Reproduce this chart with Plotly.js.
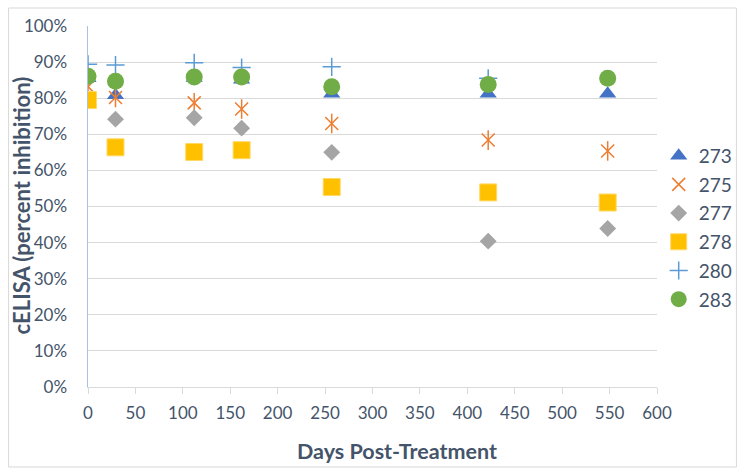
<!DOCTYPE html>
<html>
<head>
<meta charset="utf-8">
<script src="https://cdn.plot.ly/plotly-3.0.1.min.js"></script>
<style>
html,body{margin:0;padding:0;background:#fff;}
#chart{width:750px;height:476px;}
</style>
</head>
<body>
<div id="chart"></div>
<script>
// Days post-treatment
const days = [0, 29, 112, 162, 257, 422, 548];
// cELISA percent inhibition per animal
const s273 = [85.5, 80.8, 85.6, 85.1, 81.2, 81.2, 81.2];
const s275 = [83.2, 80.2, 78.7, 77.0, 73.0, 68.4, 65.4];
const s277 = [79.5, 74.2, 74.6, 71.7, 65.0, 40.4, 43.9];
const s278 = [79.5, 66.4, 65.1, 65.6, 55.4, 53.9, 51.1];
const days280 = [0, 29, 112, 162, 257, 422];
const s280 = [89.4, 89.2, 89.8, 88.5, 88.7, 85.5];
const s283 = [86.1, 84.7, 85.9, 85.9, 83.2, 83.8, 85.5];
const yTicks = [0, 10, 20, 30, 40, 50, 60, 70, 80, 90, 100];
const xTicks = [0, 50, 100, 150, 200, 250, 300, 350, 400, 450, 500, 550, 600];
const xTitle = 'Days Post-Treatment';
const yTitle = 'cELISA (percent inhibition)';

const txt = '#44546a';
const font = 'Lato, "Open Sans", sans-serif';

const traces = [
  {x: days, y: s273, name: '273', legendgroup: 'g1', mode: 'markers', type: 'scatter',
   marker: {symbol: 'triangle-up', size: 15, color: '#4472c4'}},
  {x: days, y: s275, name: '275', legendgroup: 'g2', mode: 'markers', type: 'scatter',
   marker: {symbol: 'x-thin-open', size: 13, color: '#ed7d31', line: {color: '#ed7d31', width: 1.5}}},
  {x: days, y: s275, name: '275', legendgroup: 'g2', showlegend: false, mode: 'markers', type: 'scatter',
   marker: {symbol: 'line-ns-open', size: 14, color: '#ed7d31', line: {color: '#ed7d31', width: 1.5}}},
  {x: days, y: s277, name: '277', legendgroup: 'g3', mode: 'markers', type: 'scatter',
   marker: {symbol: 'diamond', size: 13, color: '#a5a5a5'}},
  {x: days, y: s278, name: '278', legendgroup: 'g4', mode: 'markers', type: 'scatter',
   marker: {symbol: 'square', size: 17, color: '#ffc000', line: {color: '#ffd966', width: 1}}},
  {x: days280, y: s280, name: '280', legendgroup: 'g5', mode: 'markers', type: 'scatter',
   marker: {symbol: 'cross-thin-open', size: 13, color: '#5b9bd5', line: {color: '#5b9bd5', width: 1.5}}},
  {x: days, y: s283, name: '283', legendgroup: 'g6', mode: 'markers', type: 'scatter',
   marker: {symbol: 'circle', size: 17, color: '#70ad47'}}
];

const layout = {
  width: 750, height: 476,
  margin: {l: 88, r: 89, t: 26, b: 89},
  paper_bgcolor: '#ffffff', plot_bgcolor: '#ffffff',
  font: {family: font, color: txt, size: 17},
  showlegend: true,
  legend: {x: 1.003, xanchor: 'left', y: 0.693, yanchor: 'top',
           traceorder: 'grouped', tracegroupgap: 1,
           font: {family: font, size: 19, color: txt}, bgcolor: 'rgba(0,0,0,0)'},
  xaxis: {
    range: [0, 600], tickvals: xTicks, ticktext: xTicks.map(String),
    showgrid: false, zeroline: false,
    showline: true, linecolor: '#d9d9d9', linewidth: 1,
    ticks: 'outside', ticklen: 6, tickcolor: '#d9d9d9', tickwidth: 1,
    ticklabelstandoff: 5,
    tickfont: {family: font, size: 17, color: txt},
    automargin: false
  },
  yaxis: {
    range: [0, 100], tickvals: yTicks, ticktext: yTicks.map(v => v + '%'),
    showgrid: true, gridcolor: '#d9d9d9', gridwidth: 1,
    zeroline: false,
    showline: true, linecolor: '#a9c1e4', linewidth: 1.5,
    ticks: 'outside', ticklen: 16, tickcolor: 'rgba(0,0,0,0)',
    tickfont: {family: font, size: 17, color: txt},
    automargin: false
  },
  annotations: [
    {text: xTitle, xref: 'paper', yref: 'paper', x: 0.5436, y: -0.1767,
     xanchor: 'center', yanchor: 'middle', showarrow: false,
     font: {family: font, size: 21.5, color: txt, weight: 'bold'}},
    {text: yTitle, xref: 'paper', yref: 'paper', x: -0.1161, y: 0.5028,
     xanchor: 'center', yanchor: 'middle', showarrow: false, textangle: -90,
     font: {family: font, size: 22, color: txt, weight: 'bold'}}
  ],
  shapes: [{
    type: 'rect', xref: 'paper', yref: 'paper',
    x0: -0.1396, x1: 1.1396, y0: -0.2216, y1: 1.0499,
    line: {color: '#d9d9d9', width: 1}, fillcolor: 'rgba(0,0,0,0)', layer: 'below'
  }]
};

Plotly.newPlot('chart', traces, layout, {displayModeBar: false, staticPlot: true});
</script>
</body>
</html>
